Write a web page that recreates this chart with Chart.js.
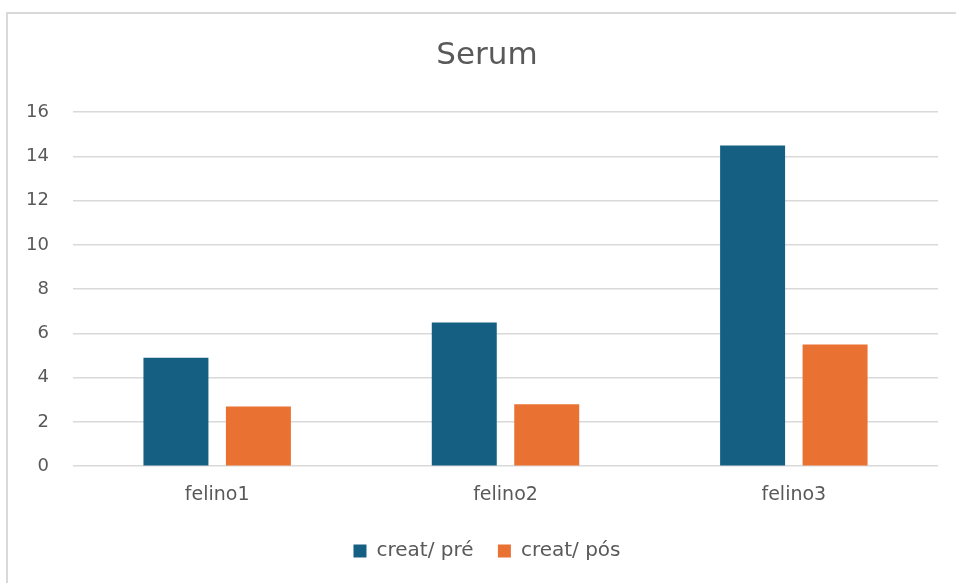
<!DOCTYPE html>
<html>
<head>
<meta charset="utf-8">
<title>Serum</title>
<script src="https://cdn.jsdelivr.net/npm/chart.js@4/dist/chart.umd.min.js"></script>
<style>
  html, body { margin: 0; padding: 0; background: #ffffff; overflow: hidden; }
  #wrap { position: relative; width: 956px; height: 583px; overflow: hidden; }
  .edge { position: absolute; background: #d9d9d9; pointer-events: none; }
  #edgeTop { left: 6px; top: 12px; width: 950px; height: 2px; }
  #edgeLeft { left: 6px; top: 12px; width: 2px; height: 571px; }
  canvas { position: absolute; left: 0; top: 0; }
</style>
</head>
<body>
<div id="wrap">
  <div class="edge" id="edgeTop"></div>
  <div class="edge" id="edgeLeft"></div>
  <canvas id="chart" width="956" height="583"></canvas>
</div>
<script>
// Serum creatinine per cat, before and after
const categories = ['felino1', 'felino2', 'felino3'];
const creatPre = [4.9, 6.5, 14.5];
const creatPos = [2.7, 2.8, 5.5];
const seriesNames = ['creat/ pré', 'creat/ pós'];
const yTicks = [0, 2, 4, 6, 8, 10, 12, 14, 16];

const FONT = '"DejaVu Sans", "Liberation Sans", sans-serif';
const TEXT = '#595959';

new Chart(document.getElementById('chart'), {
  type: 'bar',
  data: {
    labels: categories,
    datasets: [
      { label: seriesNames[0], data: creatPre, backgroundColor: '#156082' },
      { label: seriesNames[1], data: creatPos, backgroundColor: '#E97132' }
    ]
  },
  options: {
    responsive: false,
    animation: false,
    devicePixelRatio: 1,
    categoryPercentage: 0.572,
    barPercentage: 0.788,
    layout: { padding: { top: 37, left: 18, right: 0, bottom: 12 } },
    plugins: {
      title: {
        display: true,
        text: 'Serum',
        color: TEXT,
        font: { family: FONT, size: 31, weight: 'normal', lineHeight: 1.2 },
        padding: { top: 0, bottom: 38 }
      },
      legend: {
        position: 'bottom',
        labels: {
          color: TEXT,
          font: { family: FONT, size: 20 },
          boxWidth: 13,
          boxHeight: 13,
          padding: 18,
          // a little extra room after the first entry
          generateLabels: (chart) => {
            const items = Chart.defaults.plugins.legend.labels.generateLabels(chart);
            if (items.length) items[0].text = items[0].text + ' ';
            return items;
          }
        }
      },
      tooltip: { enabled: false }
    },
    scales: {
      x: {
        grid: { display: false, drawTicks: false },
        border: { display: false },
        ticks: { color: TEXT, font: { family: FONT, size: 19 }, padding: 17 }
      },
      y: {
        min: 0,
        max: 16,
        afterBuildTicks: (axis) => { axis.ticks = yTicks.map(v => ({ value: v })); },
        afterFit: (axis) => { axis.width = 55; },
        grid: { color: '#d9d9d9', lineWidth: 1.5, drawTicks: false },
        border: { display: false },
        ticks: { color: TEXT, font: { family: FONT, size: 18 }, padding: 24 }
      },
      // empty right-hand margin beside the plot
      yRight: {
        position: 'right',
        display: true,
        grid: { display: false, drawTicks: false },
        border: { display: false },
        ticks: { display: false },
        afterFit: (axis) => { axis.width = 18; }
      }
    }
  }
});
</script>
</body>
</html>
